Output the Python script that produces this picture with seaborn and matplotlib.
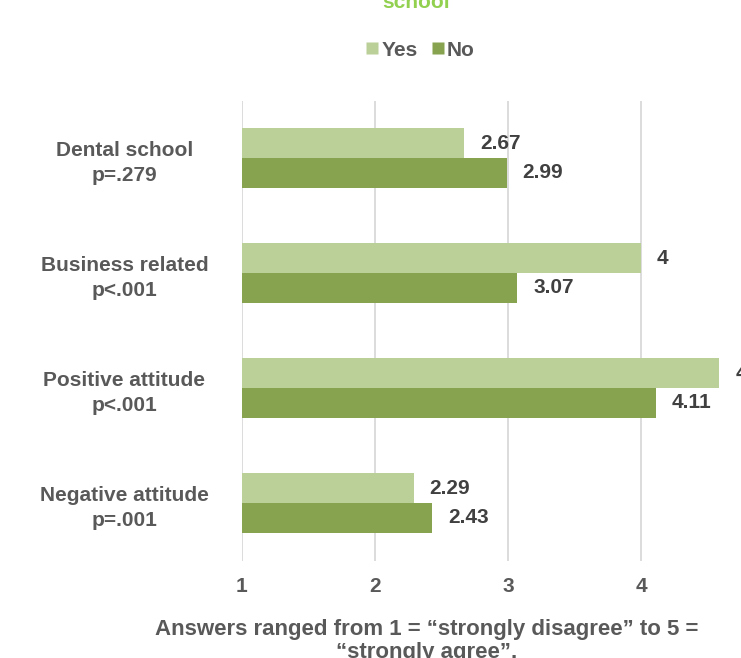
import matplotlib
matplotlib.use("Agg")
import matplotlib.pyplot as plt
from matplotlib.lines import Line2D
import seaborn as sns
import pandas as pd

categories = ["Dental school\np=.279", "Business related\np<.001",
              "Positive attitude\np<.001", "Negative attitude\np=.001"]
yes_values = [2.67, 4.00, 4.59, 2.29]
no_values = [2.99, 3.07, 4.11, 2.43]
series = ["Yes", "No"]
x_ticks = [1, 2, 3, 4, 5]

df = pd.DataFrame({
    "category": categories * 2,
    "value": yes_values + no_values,
    "group": ["Yes"] * len(categories) + ["No"] * len(categories),
})

sns.set_theme(style="white")
plt.rcParams['font.family'] = ['Liberation Sans', 'DejaVu Sans']

c_yes = "#BBCF98"
c_no = "#87A34F"
gray = "#595959"
FS = 15

fig = plt.figure(figsize=(7.41, 6.58), dpi=100)
W, H = 741, 658
ax = fig.add_axes([242 / W, (H - 560.5) / H, 532 / W, 460 / H])

sns.barplot(data=df, y="category", x="value", hue="group", hue_order=series,
            palette=[c_yes, c_no], orient="h", width=0.52, ax=ax,
            legend=False, saturation=1, edgecolor="none", linewidth=0)

ax.set_xlim(1, 5)
ax.set_ylim(3.5, -0.5)
ax.set_xticks(x_ticks)
ax.set_xticklabels([str(t) for t in x_ticks], fontsize=FS, fontweight="bold", color=gray)
ax.tick_params(axis="x", length=0, pad=12)
ax.tick_params(axis="y", length=0, pad=84.6)
for lab in ax.get_yticklabels():
    lab.set_fontsize(FS)
    lab.set_fontweight("bold")
    lab.set_color(gray)
    lab.set_horizontalalignment("center")
    lab.set_multialignment("center")
    lab.set_linespacing(1.4)

ax.grid(axis="x", color="#D9D9D9", linewidth=1.3)
ax.set_axisbelow(True)
for s in ax.spines.values():
    s.set_visible(False)
ax.set_ylabel("")
ax.set_xlabel("Answers ranged from 1 = \u201cstrongly disagree\u201d to 5 =\n\u201cstrongly agree\u201d.",
              fontsize=16, fontweight="bold", color=gray, linespacing=1.12)
ax.xaxis.set_label_coords((427 - 242) / 532, -(619 - 560.5) / 460)

for cont in ax.containers:
    labels = [("%g" % v) for v in cont.datavalues]
    ax.bar_label(cont, labels=labels, padding=11.5, fontsize=FS,
                 fontweight="bold", color="#404040")

fig.text(416 / W, 1 - 8 / H, "school", ha="center", va="baseline",
         fontsize=FS, fontweight="bold", color="#92D050")

handles = [Line2D([], [], marker="s", linestyle="none", markersize=8,
                  markerfacecolor=c, markeredgecolor="none") for c in (c_yes, c_no)]
leg = fig.legend(handles, series, loc="center", bbox_to_anchor=(420 / W, 1 - 50 / H),
                 ncol=2, frameon=False, handletextpad=0.1, columnspacing=0.6,
                 handlelength=0.7, prop={"size": FS, "weight": "bold"})
for t in leg.get_texts():
    t.set_color(gray)

fig.savefig("out.png", dpi=100)
